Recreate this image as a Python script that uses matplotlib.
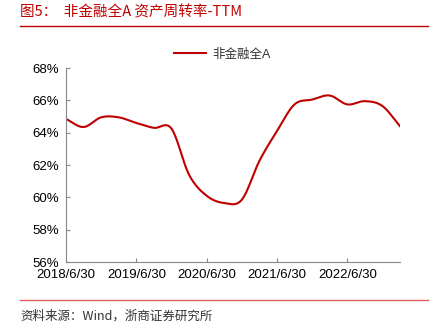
import numpy as np
import matplotlib.pyplot as plt
from matplotlib.lines import Line2D

plt.rcParams['font.family'] = ['Liberation Sans', 'Noto Sans CJK SC', 'DejaVu Sans']

# 季度数据 2018/6/30 - 2023/3/31
fechas = ['2018/6/30', '2018/9/30', '2018/12/31', '2019/3/31',
          '2019/6/30', '2019/9/30', '2019/12/31', '2020/3/31',
          '2020/6/30', '2020/9/30', '2020/12/31', '2021/3/31',
          '2021/6/30', '2021/9/30', '2021/12/31', '2022/3/31',
          '2022/6/30', '2022/9/30', '2022/12/31', '2023/3/31']
rotacion = [64.85, 64.35, 64.95, 64.95, 64.6, 64.3, 64.25, 61.4, 60.1, 59.65,
            59.85, 62.25, 64.1, 65.75, 66.05, 66.3, 65.75, 65.95, 65.65, 64.4]
yticks = [56, 58, 60, 62, 64, 66, 68]
xticks_lbl = ['2018/6/30', '2019/6/30', '2020/6/30', '2021/6/30', '2022/6/30']

ROJO = '#C00000'


def suavizar(x, y, n=20):
    # Catmull-Rom, como la línea suavizada de Excel
    x = np.asarray(x, float)
    y = np.asarray(y, float)
    px = np.concatenate([[2 * x[0] - x[1]], x, [2 * x[-1] - x[-2]]])
    py = np.concatenate([[2 * y[0] - y[1]], y, [2 * y[-1] - y[-2]]])
    xs, ys = [], []
    t = np.linspace(0, 1, n, endpoint=False)
    for i in range(1, len(px) - 2):
        for p, out in ((px, xs), (py, ys)):
            p0, p1, p2, p3 = p[i - 1], p[i], p[i + 1], p[i + 2]
            out.extend(0.5 * (2 * p1 + (-p0 + p2) * t
                              + (2 * p0 - 5 * p1 + 4 * p2 - p3) * t ** 2
                              + (-p0 + 3 * p1 - 3 * p2 + p3) * t ** 3))
    xs.append(x[-1])
    ys.append(y[-1])
    return np.array(xs), np.array(ys)


fig = plt.figure(figsize=(4.45, 3.32), dpi=100)
ax = fig.add_axes([0.1483, 0.2108, 0.7506, 0.5843])

idx = np.arange(len(fechas))
sx, sy = suavizar(idx, rotacion)
ax.plot(sx, sy, color=ROJO, linewidth=1.5)

ax.set_xlim(0, len(fechas) - 1)
ax.set_ylim(56, 68)
ax.set_yticks(yticks)
ax.set_yticklabels([f'{v}%' for v in yticks])
ax.set_xticks([fechas.index(f) for f in xticks_lbl])
ax.set_xticklabels(xticks_lbl)
ax.tick_params(direction='in', length=3, color='#888888', labelsize=9.5,
               labelcolor='#000000', pad=5)
for lado in ['top', 'right']:
    ax.spines[lado].set_visible(False)
for lado in ['left', 'bottom']:
    ax.spines[lado].set_color('#888888')
    ax.spines[lado].set_linewidth(0.8)

# leyenda
leyenda = [Line2D([0], [0], color=ROJO, linewidth=1.5)]
fig.legend(leyenda, ['非金融全A'], loc='center', bbox_to_anchor=(0.5, 0.835),
           frameon=False, fontsize=9, handlelength=2.6, handletextpad=0.5,
           labelcolor='#333333')

# titulo y fuente
fig.text(0.045, 0.962, '图5：  非金融全A 资产周转率-TTM', color=ROJO, fontsize=10.5,
         va='center', ha='left', family=['Noto Sans CJK SC', 'DejaVu Sans'])
fig.add_artist(Line2D([0.045, 0.962], [0.922, 0.922], color=ROJO, linewidth=1.0))
fig.add_artist(Line2D([0.045, 0.962], [0.097, 0.097], color='#E06060', linewidth=1.0))
fig.text(0.045, 0.048, '资料来源：Wind，浙商证券研究所', color='#333333', fontsize=9,
         va='center', ha='left', family=['Noto Sans CJK SC', 'DejaVu Sans'])

fig.savefig('out.png', dpi=100)
